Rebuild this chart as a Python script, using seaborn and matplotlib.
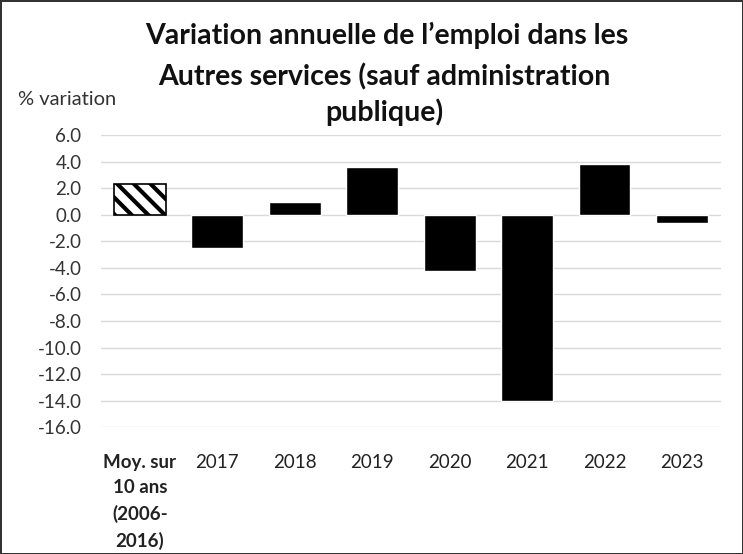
import matplotlib
matplotlib.use("Agg")
import matplotlib.pyplot as plt
import seaborn as sns
import pandas as pd

sns.set_style("white")
plt.rcParams['font.family'] = ['Lato', 'DejaVu Sans']
plt.rcParams['hatch.linewidth'] = 3.0

# Data
categories = ["Moy. sur\n10 ans\n(2006-\n2016)", "2017", "2018", "2019", "2020", "2021", "2022", "2023"]
values = [2.3, -2.5, 1.0, 3.6, -4.2, -14.0, 3.8, -0.6]
yticks = [6, 4, 2, 0, -2, -4, -6, -8, -10, -12, -14, -16]

df = pd.DataFrame({"cat": categories, "val": values})

fig = plt.figure(figsize=(7.43, 5.54), dpi=100)
ax = fig.add_axes([0.136, 0.229, 0.834, 0.527])

sns.barplot(data=df, x="cat", y="val", color="black", width=0.67, saturation=1, ax=ax, zorder=3)

# first bar hatched
p0 = ax.patches[0]
p0.set_facecolor("white")
p0.set_edgecolor("black")
p0.set_hatch("\\\\")
p0.set_linewidth(1.2)

ax.set_ylim(-16, 6)
ax.set_yticks(yticks)
ax.set_yticklabels([f"{v:.1f}" for v in yticks], fontsize=13.5, color="#333333")
ax.yaxis.grid(True, color="#d9d9d9", linewidth=1, zorder=0)
for s in ax.spines.values():
    s.set_visible(False)
ax.tick_params(axis="x", length=0, pad=19)
ax.tick_params(axis="y", length=0, pad=14)
ax.set_xlabel("")
ax.set_ylabel("")
labels = ax.set_xticklabels(categories, fontsize=13.5, color="#222222", va="top", linespacing=1.6)
labels[0].set_fontweight("bold")

fig.text(0.024, 0.82, "% variation", fontsize=14.5, color="#333333", ha="left", va="center")
fig.text(0.52, 0.937, "Variation annuelle de l\u2019emploi dans les", fontsize=20.5, fontweight="bold",
         ha="center", va="center", color="#111111")
fig.text(0.517, 0.861, "Autres services (sauf administration", fontsize=20.5, fontweight="bold",
         ha="center", va="center", color="#111111")
fig.text(0.517, 0.798, "publique)", fontsize=20.5, fontweight="bold",
         ha="center", va="center", color="#111111")

fig.patch.set_edgecolor("#333333")
fig.patch.set_linewidth(2)

fig.savefig("out.png", dpi=100, edgecolor=fig.get_edgecolor())
